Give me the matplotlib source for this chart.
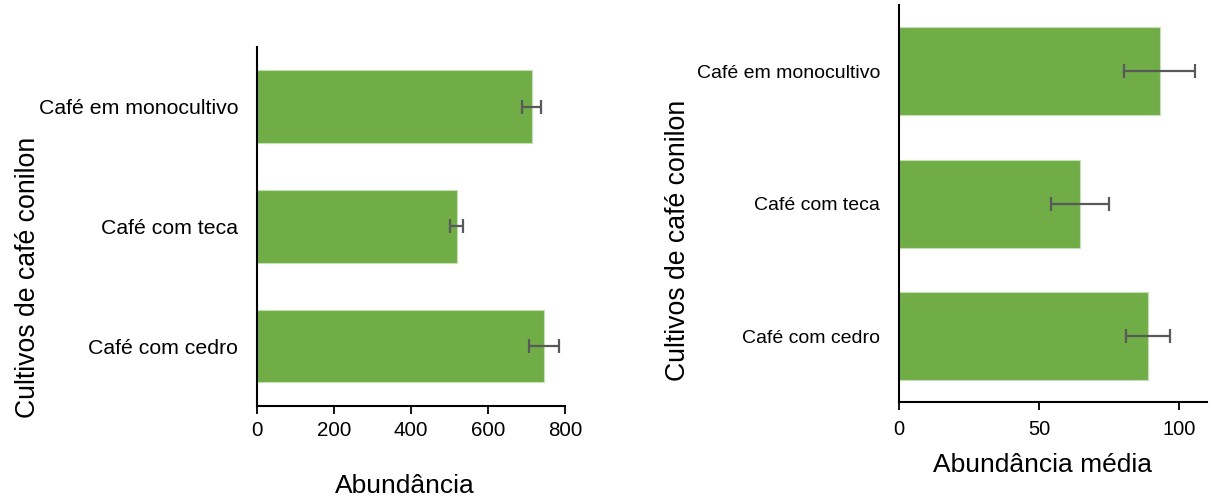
import matplotlib.pyplot as plt

# Data
CATEGORIES = ["Café em monocultivo", "Café com teca", "Café com cedro"]

ABUNDANCE = [713, 518, 745]
ABUNDANCE_ERR = [24, 17, 39]

MEAN_ABUNDANCE = [93.2, 64.6, 89.0]
MEAN_ABUNDANCE_ERR = [12.7, 10.4, 8.0]

BAR_COLOR = "#70AD47"
EDGE_COLOR = "#C5E0B4"
ERR_COLOR = "#595959"

plt.rcParams["font.family"] = ["Liberation Sans", "DejaVu Sans"]


def style_axis(ax, xlim, xticks, tick_size, ytick_size, xpad):
    """Excel-like look: only left and bottom spines, no y ticks."""
    for side in ("top", "right"):
        ax.spines[side].set_visible(False)
    for side in ("left", "bottom"):
        ax.spines[side].set_linewidth(1.5)
        ax.spines[side].set_color("black")
    ax.set_xlim(*xlim)
    ax.set_ylim(2.5, -0.5)
    ax.set_xticks(xticks)
    ax.tick_params(axis="x", direction="out", length=6, width=1.3,
                   labelsize=tick_size, pad=xpad)
    ax.tick_params(axis="y", length=0, labelsize=ytick_size, pad=13.7)


def draw_bars(ax, values, errors, height):
    pos = list(range(len(CATEGORIES)))
    ax.barh(pos, values, height=height, color=BAR_COLOR,
            edgecolor=EDGE_COLOR, linewidth=0.8)
    ax.errorbar(values, pos, xerr=errors, fmt="none", ecolor=ERR_COLOR,
                elinewidth=1.6, capsize=5, capthick=1.6)
    ax.set_yticks(pos)
    ax.set_yticklabels(CATEGORIES)


fig = plt.figure(figsize=(12.11, 5.01), dpi=100)

# Left panel: total abundance
ax1 = fig.add_axes([0.2125, 0.1896, 0.2541, 0.7172])
draw_bars(ax1, ABUNDANCE, ABUNDANCE_ERR, 0.605)
style_axis(ax1, (0, 800), [0, 200, 400, 600, 800], 14.8, 15.3, 5)
ax1.set_xlabel("Abundância", fontsize=19)
ax1.xaxis.set_label_coords(0.48, -0.19)
ax1.set_ylabel("Cultivos de café conilon", fontsize=19.2)
ax1.yaxis.set_label_coords(-0.704, 0.358)

# Right panel: mean abundance
ax2 = fig.add_axes([0.7426, 0.197, 0.2538, 0.793])
draw_bars(ax2, MEAN_ABUNDANCE, MEAN_ABUNDANCE_ERR, 0.665)
style_axis(ax2, (0, 110), [0, 50, 100], 14.5, 14, 7)
ax2.set_xlabel("Abundância média", fontsize=19)
ax2.xaxis.set_label_coords(0.467, -0.128)
ax2.set_ylabel("Cultivos de café conilon", fontsize=19.2)
ax2.yaxis.set_label_coords(-0.679, 0.4085)

fig.savefig("out.png", dpi=100)
